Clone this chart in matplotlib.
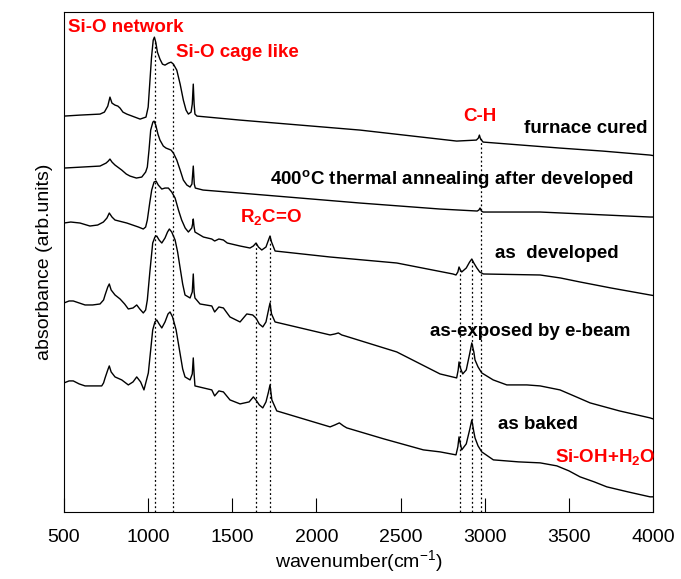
import numpy as np
import matplotlib
matplotlib.use("Agg")
import matplotlib.pyplot as plt

plt.rcParams['font.family'] = ['Liberation Sans', 'DejaVu Sans']
plt.rcParams['mathtext.fontset'] = 'custom'
plt.rcParams['mathtext.rm'] = 'Liberation Sans'
plt.rcParams['mathtext.bf'] = 'Liberation Sans:bold'

# spectra: wavenumber (cm-1) and stacked absorbance (arb.)
furnace_wn = [500, 595, 714, 740, 760, 773, 785, 803, 820, 833, 850, 873, 952, 987,
              1000, 1010, 1020, 1030, 1037, 1045, 1055, 1070, 1085, 1100, 1120, 1136,
              1150, 1170, 1190, 1209, 1225, 1239, 1255, 1262, 1268, 1273, 1278, 1290,
              1546, 2259, 2833, 2950, 2962, 2968, 2975, 2990, 3447, 3700, 3982, 4000]
furnace_ab = [3.96, 3.97, 3.98, 4.00, 4.06, 4.15, 4.09, 4.07, 4.06, 4.04, 4.00, 3.98, 3.93, 3.95,
              4.05, 4.30, 4.55, 4.72, 4.75, 4.70, 4.60, 4.53, 4.48, 4.47, 4.49, 4.50,
              4.48, 4.42, 4.28, 4.12, 4.02, 3.98, 4.00, 4.08, 4.28, 4.08, 3.98, 3.96,
              3.92, 3.82, 3.71, 3.72, 3.74, 3.77, 3.73, 3.70, 3.64, 3.61, 3.57, 3.565]

anneal_wn = [500, 714, 750, 763, 773, 785, 803, 843, 870, 892, 930, 962, 985, 995,
             1005, 1015, 1028, 1035, 1045, 1058, 1070, 1090, 1106, 1136, 1150, 1170,
             1190, 1209, 1230, 1249, 1260, 1268, 1274, 1280, 1326, 1546, 2259, 2734,
             2955, 2965, 2972, 2980, 2990, 3329, 3982, 4000]
anneal_ab = [3.44, 3.46, 3.49, 3.51, 3.53, 3.50, 3.47, 3.42, 3.38, 3.36, 3.34, 3.35, 3.40, 3.45,
             3.62, 3.82, 3.90, 3.91, 3.87, 3.78, 3.72, 3.66, 3.64, 3.62, 3.59, 3.52,
             3.42, 3.32, 3.27, 3.25, 3.28, 3.46, 3.28, 3.24, 3.22, 3.19, 3.09, 3.03,
             3.01, 3.02, 3.04, 3.01, 3.00, 3.00, 2.95, 2.95]

developed_wn = [500, 540, 595, 654, 700, 734, 755, 769, 785, 803, 873, 942, 971, 985,
                995, 1010, 1021, 1035, 1047, 1060, 1081, 1100, 1120, 1140, 1160, 1180,
                1199, 1220, 1239, 1259, 1264, 1268, 1272, 1278, 1328, 1378, 1395, 1420,
                1447, 1470, 1546, 1605, 1625, 1641, 1655, 1675, 1700, 1715, 1724, 1733,
                1754, 2081, 2477, 2811, 2829, 2840, 2847, 2855, 2863, 2890, 2910, 2923,
                2935, 2953, 2970, 2992, 3329, 3450, 3566, 3750, 3982, 4000]
developed_ab = [2.89, 2.90, 2.89, 2.86, 2.87, 2.90, 2.94, 2.99, 2.95, 2.92, 2.89, 2.85, 2.83, 2.85,
                2.92, 3.10, 3.22, 3.30, 3.31, 3.27, 3.23, 3.24, 3.24, 3.20, 3.14, 3.02,
                2.92, 2.84, 2.80, 2.84, 2.88, 2.93, 2.86, 2.80, 2.75, 2.73, 2.71, 2.73,
                2.72, 2.69, 2.66, 2.64, 2.66, 2.69, 2.65, 2.62, 2.65, 2.72, 2.76, 2.70,
                2.61, 2.55, 2.49, 2.38, 2.37, 2.40, 2.45, 2.42, 2.40, 2.44, 2.50, 2.53,
                2.49, 2.44, 2.40, 2.38, 2.37, 2.34, 2.30, 2.24, 2.17, 2.165]

exposed_wn = [500, 530, 555, 590, 625, 670, 714, 735, 744, 760, 769, 780, 803, 833,
              860, 882, 910, 932, 950, 971, 985, 995, 1010, 1027, 1040, 1051, 1065,
              1081, 1100, 1115, 1126, 1140, 1160, 1175, 1189, 1205, 1219, 1249, 1262,
              1268, 1273, 1278, 1308, 1378, 1395, 1420, 1447, 1486, 1546, 1586, 1621,
              1640, 1660, 1681, 1700, 1715, 1724, 1733, 1754, 2081, 2110, 2130, 2150,
              2170, 2477, 2734, 2833, 2842, 2847, 2855, 2869, 2890, 2910, 2923, 2935,
              2942, 2960, 2982, 3050, 3131, 3250, 3329, 3447, 3530, 3626, 3800, 3982,
              4000]
exposed_ab = [2.09, 2.11, 2.11, 2.09, 2.07, 2.07, 2.08, 2.12, 2.17, 2.25, 2.28, 2.22, 2.17, 2.13,
              2.08, 2.03, 2.04, 2.07, 2.03, 1.99, 2.02, 2.12, 2.40, 2.69, 2.75, 2.76, 2.72,
              2.69, 2.74, 2.80, 2.83, 2.80, 2.72, 2.60, 2.45, 2.28, 2.17, 2.14, 2.20,
              2.38, 2.20, 2.14, 2.08, 2.06, 2.00, 2.05, 2.04, 1.95, 1.90, 1.98, 1.97,
              1.94, 1.88, 1.85, 1.90, 2.02, 2.09, 1.98, 1.90, 1.77, 1.78, 1.79, 1.77,
              1.76, 1.60, 1.38, 1.34, 1.42, 1.50, 1.44, 1.38, 1.42, 1.58, 1.69, 1.60,
              1.52, 1.45, 1.39, 1.32, 1.27, 1.27, 1.26, 1.22, 1.16, 1.09, 1.01, 0.94,
              0.93]

baked_wn = [500, 530, 555, 590, 625, 670, 724, 735, 744, 760, 769, 780, 803, 843,
            882, 910, 932, 955, 975, 1001, 1015, 1027, 1040, 1051, 1065, 1081, 1100,
            1118, 1130, 1145, 1166, 1180, 1193, 1205, 1219, 1249, 1262, 1268, 1273,
            1278, 1328, 1378, 1395, 1420, 1447, 1486, 1546, 1600, 1625, 1640, 1660,
            1681, 1700, 1715, 1724, 1735, 1764, 2081, 2110, 2136, 2160, 2180, 2400,
            2635, 2734, 2829, 2840, 2847, 2855, 2863, 2890, 2910, 2923, 2935, 2942,
            2960, 2982, 3051, 3200, 3329, 3428, 3500, 3566, 3650, 3725, 3850, 3982,
            4000]
baked_ab = [1.29, 1.31, 1.31, 1.28, 1.26, 1.26, 1.26, 1.29, 1.34, 1.42, 1.46, 1.40, 1.35, 1.32,
            1.27, 1.30, 1.35, 1.30, 1.22, 1.39, 1.62, 1.82, 1.90, 1.92, 1.88, 1.84, 1.90,
            1.98, 2.00, 1.95, 1.82, 1.68, 1.55, 1.43, 1.35, 1.32, 1.38, 1.54, 1.38,
            1.26, 1.24, 1.22, 1.16, 1.21, 1.20, 1.12, 1.08, 1.10, 1.15, 1.12, 1.07,
            1.04, 1.10, 1.20, 1.27, 1.12, 1.01, 0.85, 0.87, 0.89, 0.86, 0.84, 0.73,
            0.62, 0.60, 0.57, 0.65, 0.75, 0.68, 0.62, 0.68, 0.82, 0.92, 0.80, 0.74,
            0.66, 0.60, 0.52, 0.50, 0.49, 0.46, 0.41, 0.35, 0.30, 0.25, 0.20, 0.15,
            0.15]

# band positions marked with dotted lines and the height they start from
band_wn = [1040, 1145, 1640, 1722, 2850, 2925, 2975]
band_top = [4.72, 4.49, 2.69, 2.76, 2.45, 2.53, 3.75]

xticks = [500, 1000, 1500, 2000, 2500, 3000, 3500, 4000]

fig = plt.figure(figsize=(6.81, 5.79), dpi=100)
ax = fig.add_axes([0.094, 0.116, 0.865, 0.863])

for wn, ab in [(furnace_wn, furnace_ab), (anneal_wn, anneal_ab), (developed_wn, developed_ab),
               (exposed_wn, exposed_ab), (baked_wn, baked_ab)]:
    ax.plot(wn, ab, color='black', lw=1.0)

ax.vlines(band_wn, 0, band_top, colors='black', linestyles=(0, (1.5, 2)), lw=0.9)

red = dict(color='red', fontweight='bold', fontsize=13.5)
blk = dict(color='black', fontweight='bold', fontsize=13.5)
ax.text(525, 4.85, 'Si-O network', va='center', **red)
ax.text(1165, 4.60, 'Si-O cage like', va='center', **red)
ax.text(2972, 3.96, 'C-H', ha='center', va='center', **red)
ax.text(1730, 2.94, r'R$_\mathbf{2}$C=O', ha='center', va='center', **red)
ax.text(3415, 0.54, r'Si-OH+H$_\mathbf{2}$O', va='center', **red)

ax.text(3965, 3.84, 'furnace cured', ha='right', va='center', **blk)
ax.text(1724, 3.32, r'400$^\mathbf{o}$C thermal annealing after developed', va='center', **blk)
ax.text(3061, 2.59, 'as  developed', va='center', **blk)
ax.text(2675, 1.80, 'as-exposed by e-beam', va='center', **blk)
ax.text(3079, 0.87, 'as baked', va='center', **blk)

ax.set_xlim(500, 4000)
ax.set_ylim(0, 5)
ax.set_xticks(xticks)
ax.set_yticks([])
ax.tick_params(axis='x', direction='in', length=10, labelsize=14, pad=12)
ax.set_xlabel(r'wavenumber(cm$^{-1}$)', fontsize=14, labelpad=2)
ax.set_ylabel('absorbance (arb.units)', fontsize=14, labelpad=8)

plt.savefig('out.png', dpi=100)
